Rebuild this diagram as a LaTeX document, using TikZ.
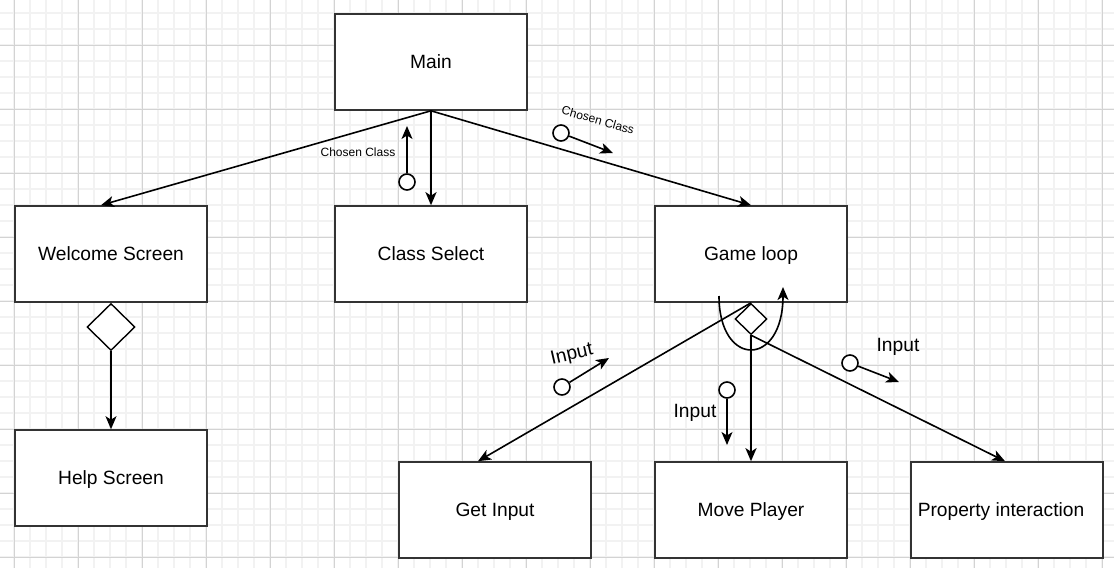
\documentclass[tikz,border=0pt]{standalone}
\usepackage{fontspec}
\setmainfont{Liberation Sans}
\usetikzlibrary{shapes.geometric,arrows.meta}
\definecolor{gridminor}{HTML}{F2F2F2}
\definecolor{gridmajor}{HTML}{D3D3D3}
\definecolor{boxline}{HTML}{333333}

\begin{document}
\begin{tikzpicture}[x=1pt,y=-1pt,
	block/.style={draw=boxline,line width=1.6pt,fill=white,minimum width=192pt,minimum height=96pt,inner sep=0pt,text height=13.7pt,text depth=0pt,font=\fontsize{19.2}{23}\selectfont},
	gate/.style={diamond,draw=black,line width=1.4pt,fill=white,inner sep=0pt},
	edge/.style={line width=1.6pt,-{Stealth[length=13pt,width=11pt,inset=3.5pt]}},
	heavy/.style={line width=2.4pt},
	msgdot/.style={circle,draw=black,line width=1.6pt,fill=white,minimum size=16pt,inner sep=0pt},
	smalllabel/.style={font=\fontsize{12}{14}\selectfont,inner sep=1pt},
	biglabel/.style={font=\fontsize{19.2}{23}\selectfont,inner sep=1pt}]
	\useasboundingbox[fill=white] (0,0) rectangle (1114,568);
	% grid
	\foreach \x in {14,30,...,1110}
	\draw[gridminor,line width=1.6pt] (\x,0) -- (\x,568);
	\foreach \y in {13,29,...,565}
	\draw[gridminor,line width=1.6pt] (0,\y) -- (1114,\y);
	\foreach \x in {14,78,...,1110}
	\draw[gridmajor,line width=1pt] (\x,0) -- (\x,568);
	\foreach \y in {45,109,...,565}
	\draw[gridmajor,line width=1pt] (0,\y) -- (1114,\y);
	% boxes
	\node[block] (main) at (431,62) {Main};
	\node[block] (welcome) at (111,254) {Welcome Screen};
	\node[block] (classsel) at (431,254) {Class Select};
	\node[block] (game) at (751,254) {Game loop};
	\node[block] (help) at (111,478) {Help Screen};
	\node[block] (getin) at (495,510) {Get Input};
	\node[block] (move) at (751,510) {Move Player};
	\node[block] (prop) at (1007,510) {\hspace*{-12pt}Property interaction};
	\node[gate,minimum width=48pt,minimum height=47pt,anchor=north] (wgate) at (welcome.south) {};
	\node[gate,minimum width=32pt,minimum height=31pt,anchor=north] (ggate) at (game.south) {};
	% edges
	\draw[edge] (main.south) -- ([xshift=-10pt]welcome.north);
	\draw[edge,heavy] (main.south) -- (classsel.north);
	\draw[edge] (main.south) -- (game.north);
	\draw[edge] (wgate.south) -- (help.north);
	\draw[edge] (game.south) -- ([xshift=-17pt]getin.north);
	\draw[edge,heavy] (ggate.south) -- (move.north);
	\draw[edge] (ggate.south) -- ([xshift=-2pt]prop.north);
	\coordinate (loopa) at (719,296);
	\coordinate (loopb) at (783,287);
	\draw[edge] (loopa) .. controls (719,368) and (783,368) .. (loopb);
	% messages
	\node[msgdot] (m1) at (407,182) {};
	\coordinate (m1tip) at (407,126);
	\draw[edge] (m1) -- (m1tip);
	\node[smalllabel] (l1) at (358,152) {Chosen Class};
	\node[msgdot] (m2) at (561,133) {};
	\coordinate (m2tip) at (613,153);
	\draw[edge] (m2) -- (m2tip);
	\node[smalllabel,rotate=-16] (l2) at (598,120) {Chosen Class};
	\node[msgdot] (m3) at (562,387) {};
	\coordinate (m3tip) at (609,358);
	\draw[edge] (m3) -- (m3tip);
	\node[biglabel,rotate=13] (l3) at (572,355) {Input};
	\node[msgdot] (m4) at (850,363) {};
	\coordinate (m4tip) at (899,382);
	\draw[edge] (m4) -- (m4tip);
	\node[biglabel] (l4) at (898,347) {Input};
	\node[msgdot] (m5) at (727,390) {};
	\coordinate (m5tip) at (727,445);
	\draw[edge] (m5) -- (m5tip);
	\node[biglabel] (l5) at (695,413) {Input};
\end{tikzpicture}
\end{document}
